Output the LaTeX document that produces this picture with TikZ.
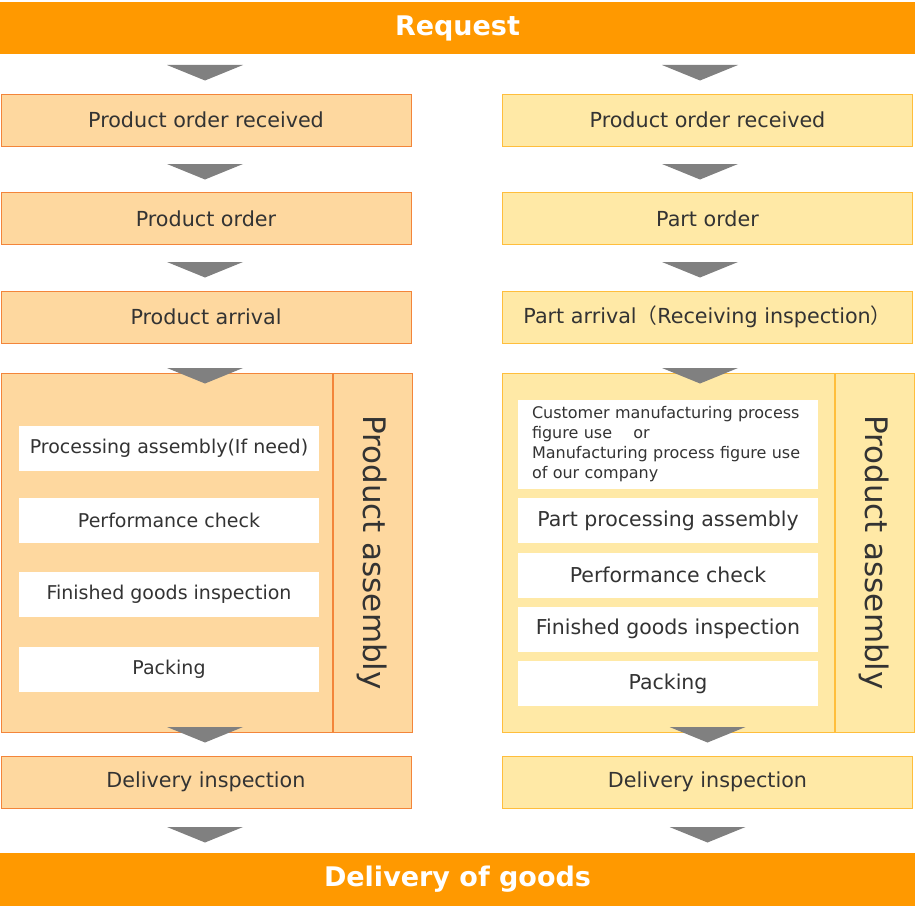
\documentclass[tikz,border=0pt]{standalone}
\usepackage{fontspec}
\setmainfont{DejaVu Sans}
\newfontfamily\cjk{Noto Sans CJK JP}
\usetikzlibrary{positioning}
\definecolor{cOrange}{RGB}{255,153,0}
\definecolor{cPeach}{RGB}{254,216,159}
\definecolor{cPeachLine}{RGB}{243,133,58}
\definecolor{cCream}{RGB}{255,233,166}
\definecolor{cCreamLine}{RGB}{255,190,60}
\definecolor{cArrow}{RGB}{128,128,128}
\definecolor{cText}{RGB}{51,51,51}
\tikzset{
  barnode/.style={rectangle, fill=cOrange, minimum width=915pt,
                  minimum height=52pt, inner sep=0pt, text=white,
                  font=\fontsize{27}{30}\selectfont\bfseries},
  leftbox/.style={rectangle, draw=cPeachLine, fill=cPeach, line width=1pt,
                  minimum width=410pt, minimum height=52pt, inner sep=0pt,
                  text=cText, font=\fontsize{20.7}{24}\selectfont},
  rightbox/.style={leftbox, draw=cCreamLine, fill=cCream},
  whitebox/.style={rectangle, fill=white, minimum width=300pt,
                   minimum height=45pt, inner sep=0pt, text=cText,
                   font=\fontsize{20.5}{24}\selectfont},
  lwhitebox/.style={whitebox, font=\fontsize{19}{24}\selectfont},
  sidelabel/.style={rotate=-90, text=cText, inner sep=0pt,
                    font=\fontsize{31}{32}\selectfont},
  downtri/.style={fill=cArrow}
}

\begin{document}
\begin{tikzpicture}[x=1pt, y=-1pt]
  \useasboundingbox (0,0) rectangle (915,907);

  % -- Bars --
  \node[barnode] (request) at (457.5,28) {Request};
  \node[barnode, minimum height=53pt] (goods) at (457.5,879.5) {Delivery of goods};

  % -- Left column --
  \node[leftbox] (lRecv) at (206,120) {Product order received};
  \node[leftbox] (lOrder) at (206,218.5) {Product order};
  \node[leftbox] (lArrive) at (206,317) {Product arrival};
  \node[leftbox, minimum width=331pt, minimum height=359pt] (lMain) at (166.5,552.5) {};
  \node[leftbox, minimum width=79pt, minimum height=359pt, right=0pt of lMain] (lSide) {};
  \node[sidelabel] at (lSide.center) {Product assembly};
  \node[lwhitebox] (lProc) at (169,448.5) {Processing assembly(If need)};
  \node[lwhitebox] (lPerf) at (169,520.5) {Performance check};
  \node[lwhitebox] (lFin) at (169,594.5) {Finished goods inspection};
  \node[lwhitebox] (lPack) at (169,669.5) {Packing};
  \node[leftbox] (lDeliv) at (206,782) {Delivery inspection};

  % -- Right column --
  \node[rightbox] (rRecv) at (707.5,120) {Product order received};
  \node[rightbox] (rOrder) at (707.5,218.5) {Part order};
  \node[rightbox] (rArrive) at (707.5,317)
      {Part arrival{\cjk （}Receiving inspection{\cjk ）}};
  \node[rightbox, minimum width=332pt, minimum height=359pt] (rMain) at (668,552.5) {};
  \node[rightbox, minimum width=79pt, minimum height=359pt, right=0pt of rMain] (rSide) {};
  \node[sidelabel] at (rSide.center) {Product assembly};
  \node[whitebox, minimum height=89pt, text width=272pt, align=left,
        font=\fontsize{16}{20}\selectfont] (rFigure) at (668,444.5)
      {Customer manufacturing process\\figure use\quad\ or\\Manufacturing process figure use\\of our company};
  \node[whitebox] (rProc) at (668,520.5) {Part processing assembly};
  \node[whitebox] (rPerf) at (668,575) {Performance check};
  \node[whitebox] (rFin) at (668,629) {Finished goods inspection};
  \node[whitebox] (rPack) at (668,683.5) {Packing};
  \node[rightbox] (rDeliv) at (707.5,782) {Delivery inspection};

  % -- Triangles --
  \foreach \y in {65,164,262,368,727,827}
    \fill[downtri] (205,\y) ++(-38,0) -- ++(76,0) -- ++(-38,15.5) -- cycle;
  \foreach \y in {65,164,262,368}
    \fill[downtri] (700,\y) ++(-38,0) -- ++(76,0) -- ++(-38,15.5) -- cycle;
  \foreach \y in {727,827}
    \fill[downtri] (707.5,\y) ++(-38,0) -- ++(76,0) -- ++(-38,15.5) -- cycle;

\end{tikzpicture}
\end{document}
